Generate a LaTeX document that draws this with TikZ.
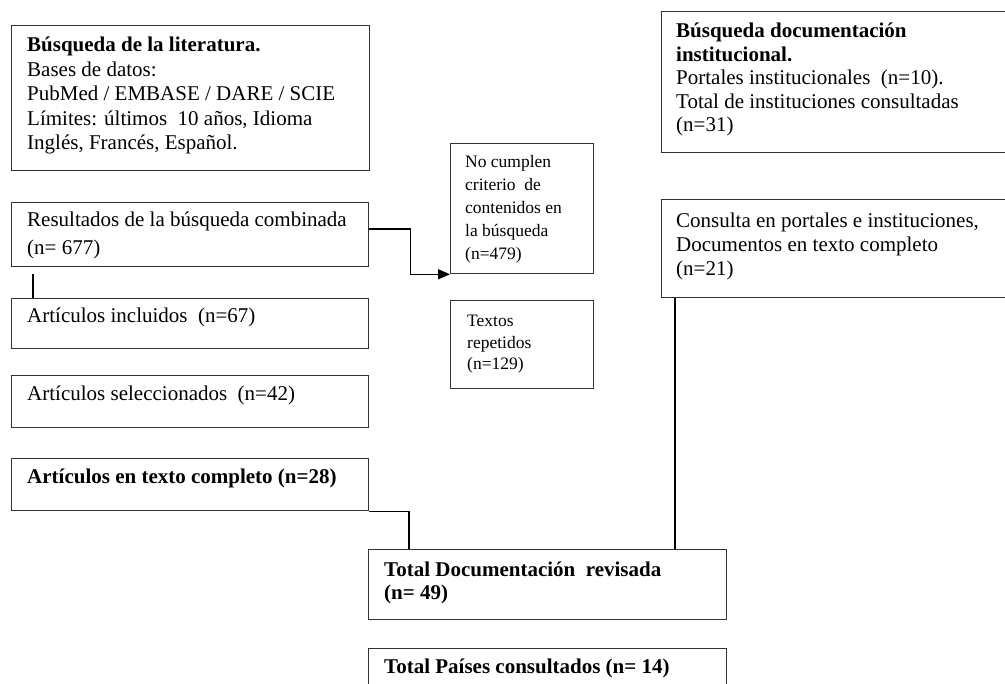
\documentclass[tikz,border=0pt]{standalone}
\usepackage{fontspec}
\setmainfont{Liberation Serif}
\usetikzlibrary{arrows.meta,calc}
\begin{document}
\begin{tikzpicture}[x=1pt,y=-1pt,
  box/.style={draw=black!80, line width=1.3pt, inner sep=0pt, anchor=north west},
  lab/.style={anchor=base west, inner sep=0pt, align=left, text=black},
  big/.style={font=\fontsize{21}{24.5}\selectfont},
  small/.style={font=\fontsize{17.5}{23.2}\selectfont},
  conn/.style={draw=black, line width=1.3pt},
  arr/.style={conn, -{Triangle[length=12pt,width=10pt]}}]
\useasboundingbox (0,0) rectangle (1005,684);
\clip (0,0) rectangle (1005,684);
\fill[white] (0,0) rectangle (1005,684);

\node[box, minimum width=358pt, minimum height=145pt,
  label={[lab,big,xshift=16pt,yshift=-125pt]north west:{\textbf{Búsqueda de la literatura.}\\ Bases de datos:\\ PubMed / EMBASE / DARE / SCIE\\ Límites: últimos\ \ 10 años, Idioma\\ Inglés, Francés, Español.}}]
  (lit) at (11,25) {};

\node[box, minimum width=357pt, minimum height=64pt,
  label={[lab,big,xshift=16pt,yshift=-53pt]north west:{Resultados de la búsqueda combinada\\[3.5pt] (n= 677)}}]
  (res) at (11,202) {};

\node[box, minimum width=357pt, minimum height=50pt,
  label={[lab,big,xshift=16pt,yshift=-25pt]north west:{Artículos incluidos\ \ (n=67)}}]
  (inc) at (11,298) {};

\node[box, minimum width=357pt, minimum height=52pt,
  label={[lab,big,xshift=16pt,yshift=-26pt]north west:{Artículos seleccionados\ \ (n=42)}}]
  (sel) at (11,375) {};

\node[box, minimum width=357pt, minimum height=52pt,
  label={[lab,big,xshift=16pt,yshift=-26pt]north west:{\textbf{Artículos en texto completo\ (n=28)}}}]
  (txt) at (11,458) {};

\node[box, minimum width=143pt, minimum height=130pt,
  label={[lab,small,xshift=15pt,yshift=-117pt]north west:{No cumplen\\ criterio\ \ de\\ contenidos en\\ la búsqueda\\ (n=479)}}]
  (nocum) at (450,143) {};

\node[box, minimum width=143pt, minimum height=88pt,
  label={[lab,small,xshift=17pt,yshift=-70pt]north west:{Textos\\[-1.7pt] repetidos\\[-1.7pt] (n=129)}}]
  (rep) at (450,300) {};

\node[box, minimum width=360pt, minimum height=141pt,
  label={[lab,big,xshift=15pt,yshift=-121pt]north west:{\textbf{Búsqueda documentación}\\[-1pt] \textbf{institucional.}\\[-1pt] Portales institucionales\ \ (n=10).\\[-1pt] Total de instituciones\ consultadas\\[-1pt] (n=31)}}]
  (inst) at (661,11) {};

\node[box, minimum width=360pt, minimum height=98pt,
  label={[lab,big,xshift=15pt,yshift=-77pt]north west:{Consulta en portales e instituciones,\\[-0.5pt] Documentos en texto completo\\[-0.5pt] (n=21)}}]
  (cons) at (661,199) {};

\node[box, minimum width=358pt, minimum height=70pt,
  label={[lab,big,xshift=16pt,yshift=-51pt]north west:{\textbf{Total Documentación\ \ revisada}\\[-1.5pt] \textbf{(n= 49)}}}]
  (tot) at (368,549) {};

\node[box, minimum width=358pt, minimum height=60pt,
  label={[lab,big,xshift=16pt,yshift=-25pt]north west:{\textbf{Total Países consultados\ (n= 14)}}}]
  (pais) at (368,648) {};

% connectors
\draw[arr] ($(res.north east)+(0,27)$) -- ++(41,0) |- (nocum.south west);
\draw[conn, shorten <=7pt] ([xshift=22pt]res.south west) -- ([xshift=22pt]res.south west |- inc.north);
\draw[conn] (txt.south east) -| ($(tot.north west)+(41,0)$);
\draw[conn] ([xshift=14pt]cons.south west) -- ([xshift=14pt]cons.south west |- tot.north);
\end{tikzpicture}
\end{document}
